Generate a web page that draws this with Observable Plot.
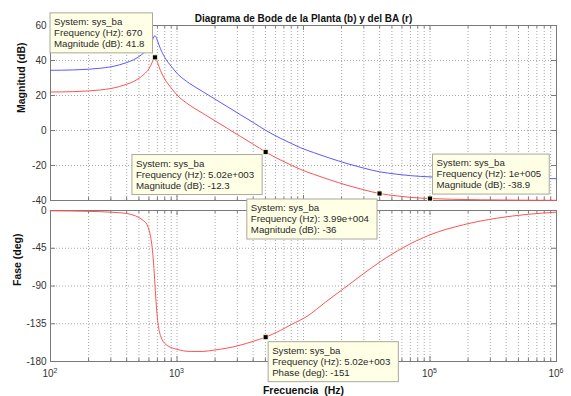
<!DOCTYPE html>
<html><head><meta charset="utf-8">
<script src="https://cdn.jsdelivr.net/npm/d3@7"></script>
<script src="https://cdn.jsdelivr.net/npm/@observablehq/plot@0.6"></script>
<style>
html,body{margin:0;padding:0;background:#fff;}
#chart{position:relative;width:571px;height:396px;overflow:hidden;}
#chart svg{position:absolute;left:0;overflow:visible;background:transparent;}
#bottom{top:200px;}
#top{top:0;}
</style></head><body><div id="chart"></div>
<script>
// ---------- text ----------
const title = "Diagrama de Bode de la Planta (b) y del BA (r)";
const xLabel = "Frecuencia  (Hz)";
const magLabel = "Magnitud (dB)";
const phaseLabel = "Fase (deg)";
const systemName = "sys_ba";

// ---------- data ----------
const freqMag = [100,150,200,250,300,350,400,450,500,550,600,640,655,670,685,700,740,800,900,1000,1250,1600,2000,2500,3160,4000,5020,6560,8000,9440,12000,16000,22100,30000,39900,55000,70000,100000,150000,250000,500000,1000000];
const magBA = [22.0,22.2,22.6,23.2,24.0,25.1,26.4,27.9,29.8,32.2,35.3,39.3,41.0,41.8,40.8,39.0,34.3,29.4,24.3,20.3,14.6,9.8,5.5,1.2,-3.3,-7.8,-12.3,-16.8,-19.8,-22.2,-25.0,-28.1,-31.3,-33.9,-36.0,-37.4,-38.2,-38.9,-39.3,-39.6,-39.8,-39.9];
const magPlanta = [34.4,34.6,35.0,35.6,36.4,37.5,38.8,40.3,42.2,44.6,47.7,51.7,53.4,54.2,53.2,51.4,46.7,41.8,36.7,32.7,27.0,22.2,17.9,13.6,9.1,4.6,0.1,-4.4,-7.4,-9.8,-12.6,-15.7,-18.9,-21.5,-23.6,-25.0,-25.8,-26.5,-26.9,-27.2,-27.4,-27.5];
const freqPhase = [100,200,300,400,470,536,580,603,620,636,653,670,687,703,720,740,763,800,850,1000,1276,1600,1950,2500,3160,4000,5020,6560,8000,10700,15000,22100,30000,40500,61800,100000,184000,337000,600000,1000000];
const phaseBA = [-0.4,-1.0,-2.0,-3.5,-6.5,-11.5,-17,-24,-32,-44,-63,-89,-114,-131,-142,-149,-154,-158.5,-161.5,-165.5,-168,-168,-166.5,-164,-160.5,-156,-151,-143,-136,-126,-109,-90,-75,-61,-44,-29,-17,-9.2,-4.5,-2];

const magTipFreq = [670, 5020, 39900, 100000];
const magTipValue = [41.8, -12.3, -36, -38.9];
const magTipFreqText = ["670", "5.02e+003", "3.99e+004", "1e+005"];
const magTipValueText = ["41.8", "-12.3", "-36", "-38.9"];
const phaseTipFreq = [5020];
const phaseTipValue = [-151];
const phaseTipFreqText = ["5.02e+003"];
const phaseTipValueText = ["-151"];

const decadeTicks = [1e2, 1e3, 1e4, 1e5, 1e6];
const decadeExponents = ["2", "3", "4", "5", "6"];
const magTicks = [-40, -20, 0, 20, 40, 60];
const phaseTicks = [-180, -135, -90, -45, 0];

// ---------- layout / style ----------
const FONT = '"Liberation Sans", Arial, Helvetica, sans-serif';
const RED = "#ff5252", BLUE = "#5a5aff", GRID = "#a8a8a8", FRAME = "#7a7a7a", TXT = "#333";
const W = 571, ML = 50, MR = 15;
// tip placement: [side of box relative to marker (horizontal), (vertical), dx, dy]
const magTipPlace = [["left","above",-2,-4],["left","below",-3,3],["left","below",-2,6],["right","above",3,-4]];
const phaseTipPlace = [["right","below",3,5]];

const minorFreqs = [];
for (const d of [1e2,1e3,1e4,1e5]) for (let k = 1; k <= 9; k++) minorFreqs.push(k*d);
minorFreqs.push(1e6);

const ctx = document.createElement("canvas").getContext("2d");
const TIP_FS = 9.7;
function tw(s){ ctx.font = `${TIP_FS}px ${FONT}`; return ctx.measureText(s).width; }

function tipMark(freqs, vals, lines, place) {
  return (index, scales) => {
    const g = d3.create("svg:g").attr("font-family", FONT).attr("font-size", TIP_FS).attr("text-anchor", "start");
    freqs.forEach((f, i) => {
      const mx = scales.x(f), my = scales.y(vals[i]);
      const ls = lines[i];
      const w = Math.max(...ls.map(s => tw(s))) + 12;
      const h = ls.length * 11 + 7;
      const [hs, vs, ox, oy] = place[i];
      const left = hs === "left" ? mx + ox - w : mx + ox;
      const top = vs === "above" ? my + oy - h : my + oy;
      g.append("rect").attr("x", left).attr("y", top).attr("width", w).attr("height", h)
        .attr("fill", "#ffffe6").attr("stroke", "#a9a99c").attr("stroke-width", 1);
      ls.forEach((s, j) => g.append("text").attr("x", left + 4).attr("y", top + 12.3 + j * 11)
        .attr("text-anchor", "start").attr("fill", "#2a2a2a").text(s));
    });
    return g.node();
  };
}

function yTicksFor(dom){ return dom[0] === -40 ? magTicks : phaseTicks; }
function edgeTicks(yDomain, pxH) {
  const [y0, y1] = yDomain, u = (y1 - y0) / pxH;
  const major = decadeTicks, minor = minorFreqs.filter(f => !decadeTicks.includes(f));
  const xl = (px) => 1e2 * Math.pow(10, px * 4 / (W - ML - MR));
  const xr = (px) => 1e6 / Math.pow(10, px * 4 / (W - ML - MR));
  return [
    Plot.ruleX(major, {y1: y0, y2: y0 + 5*u, stroke: FRAME}),
    Plot.ruleX(major, {y1: y1, y2: y1 - 5*u, stroke: FRAME}),
    Plot.ruleX(minor, {y1: y0, y2: y0 + 3*u, stroke: FRAME}),
    Plot.ruleX(minor, {y1: y1, y2: y1 - 3*u, stroke: FRAME}),
    Plot.ruleY(yTicksFor(yDomain), {x1: 1e2, x2: xl(5), stroke: FRAME}),
    Plot.ruleY(yTicksFor(yDomain), {x1: 1e6, x2: xr(5), stroke: FRAME})
  ];
}

const style = {fontFamily: FONT, fontSize: "10px", background: "transparent", overflow: "visible", color: TXT};

const magLines = magTipFreq.map((f, i) => [`System: ${systemName}`, `Frequency (Hz): ${magTipFreqText[i]}`, `Magnitude (dB): ${magTipValueText[i]}`]);
const phaseLines = phaseTipFreq.map((f, i) => [`System: ${systemName}`, `Frequency (Hz): ${phaseTipFreqText[i]}`, `Phase (deg): ${phaseTipValueText[i]}`]);

const bottom = Plot.plot({
  width: W, height: 196, marginTop: 10, marginBottom: 35, marginLeft: ML, marginRight: MR,
  x: {type: "log", domain: [1e2, 1e6], axis: null},
  y: {domain: [-180, 0], axis: null},
  style,
  marks: [
    Plot.ruleX(minorFreqs, {stroke: GRID, strokeDasharray: "1,2"}),
    Plot.ruleY(phaseTicks, {stroke: GRID, strokeDasharray: "1,2"}),
    ...edgeTicks([-180, 0], 151),
    Plot.frame({stroke: FRAME}),
    Plot.axisY(phaseTicks, {tickSize: 0, tickPadding: 4, tickFormat: d => String(d), fill: TXT, fontSize: 10, label: null}),
    Plot.text(decadeTicks, {x: d => d, text: () => "10", frameAnchor: "bottom", dy: 15.5, dx: -2.5, fill: TXT, fontSize: 10}),
    Plot.text(decadeTicks, {x: d => d, text: decadeExponents, frameAnchor: "bottom", dy: 11.5, dx: 5, fill: TXT, fontSize: 7}),
    Plot.line(freqPhase, {x: freqPhase, y: phaseBA, stroke: RED, strokeWidth: 1, curve: "monotone-x"}),
    Plot.text([phaseLabel], {frameAnchor: "left", dx: -32.5, rotate: -90, fontWeight: "bold", fontSize: 10.5, fill: "#111"}),
    Plot.text([xLabel], {frameAnchor: "bottom", dy: 32, fontWeight: "bold", fontSize: 10.5, fill: "#111"}),
    tipMark(phaseTipFreq, phaseTipValue, phaseLines, phaseTipPlace),
    Plot.dot(phaseTipFreq, {x: phaseTipFreq, y: phaseTipValue, symbol: "square", r: 2.8, fill: "black", stroke: "#ffffd0", strokeWidth: 0.8})
  ]
});
bottom.id = "bottom";

const topPlot = Plot.plot({
  width: W, height: 205, marginTop: 25, marginBottom: 5, marginLeft: ML, marginRight: MR,
  x: {type: "log", domain: [1e2, 1e6], axis: null},
  y: {domain: [-40, 60], axis: null},
  style,
  marks: [
    Plot.ruleX(minorFreqs, {stroke: GRID, strokeDasharray: "1,2"}),
    Plot.ruleY(magTicks, {stroke: GRID, strokeDasharray: "1,2"}),
    ...edgeTicks([-40, 60], 175),
    Plot.frame({stroke: FRAME}),
    Plot.axisY(magTicks, {tickSize: 0, tickPadding: 4, tickFormat: d => String(d), fill: TXT, fontSize: 10, label: null}),
    Plot.line(freqMag, {x: freqMag, y: magPlanta, stroke: BLUE, strokeWidth: 1, curve: "monotone-x"}),
    Plot.line(freqMag, {x: freqMag, y: magBA, stroke: RED, strokeWidth: 1, curve: "monotone-x"}),
    Plot.text([magLabel], {frameAnchor: "left", dx: -28.5, rotate: -90, fontWeight: "bold", fontSize: 10.5, fill: "#111"}),
    Plot.text([title], {frameAnchor: "top", dy: -11, fontWeight: "bold", fontSize: 10, fill: "#111"}),
    tipMark(magTipFreq, magTipValue, magLines, magTipPlace),
    Plot.dot(magTipFreq, {x: magTipFreq, y: magTipValue, symbol: "square", r: 2.8, fill: "black", stroke: "#ffffd0", strokeWidth: 0.8})
  ]
});
topPlot.id = "top";

const chart = document.getElementById("chart");
chart.appendChild(bottom);
chart.appendChild(topPlot);
</script></body></html>
